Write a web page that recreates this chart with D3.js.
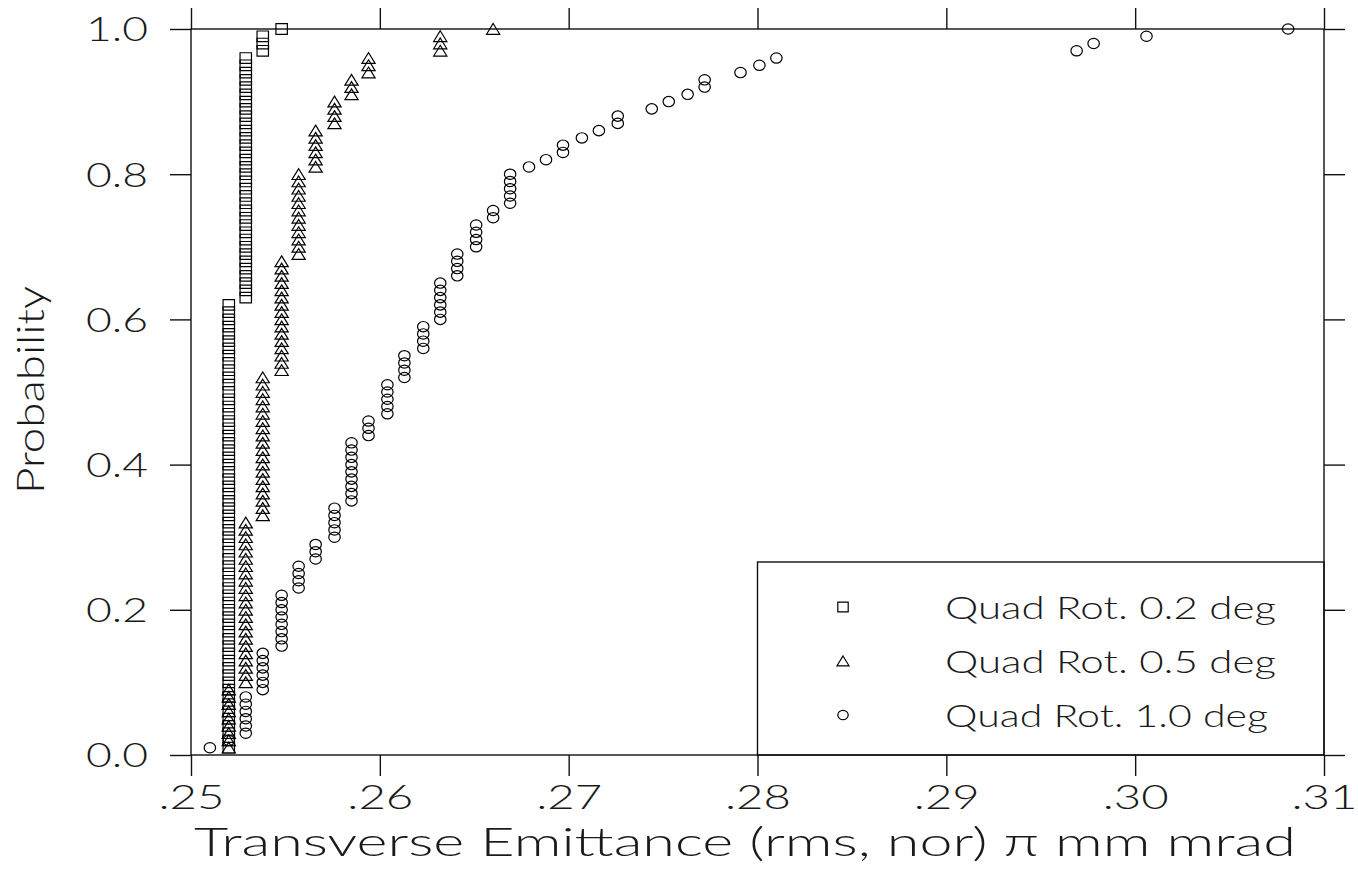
<!DOCTYPE html>
<html>
<head>
<meta charset="utf-8">
<script src="https://cdn.jsdelivr.net/npm/d3@7"></script>
<style>
  html, body { margin: 0; padding: 0; background: #ffffff; }
  svg { display: block; }
  text { font-family: Lato, Inter, Roboto, "DejaVu Sans", sans-serif; font-weight: 300; fill: #1a1a1a; }
</style>
</head>
<body>
<svg id="chart" width="1358" height="871"></svg>
<script>
// Sorted transverse emittance samples (pi mm mrad) for each quadrupole rotation;
// each sample is plotted at its cumulative probability rank / n.
const rot02 = [
  .2520,.2520,.2520,.2520,.2520,.2520,.2520,.2520,.2520,.2520,
  .2520,.2520,.2520,.2520,.2520,.2520,.2520,.2520,.2520,.2520,
  .2520,.2520,.2520,.2520,.2520,.2520,.2520,.2520,.2520,.2520,
  .2520,.2520,.2520,.2520,.2520,.2520,.2520,.2520,.2520,.2520,
  .2520,.2520,.2520,.2520,.2520,.2520,.2520,.2520,.2520,.2520,
  .2520,.2520,.2520,.2520,.2520,.2520,.2520,.2520,.2520,.2520,
  .2520,.2520,.2529,.2529,.2529,.2529,.2529,.2529,.2529,.2529,
  .2529,.2529,.2529,.2529,.2529,.2529,.2529,.2529,.2529,.2529,
  .2529,.2529,.2529,.2529,.2529,.2529,.2529,.2529,.2529,.2529,
  .2529,.2529,.2529,.2529,.2529,.2529,.2538,.2538,.2538,.2548
];
const rot05 = [
  .2520,.2520,.2520,.2520,.2520,.2520,.2520,.2520,.2520,.2529,
  .2529,.2529,.2529,.2529,.2529,.2529,.2529,.2529,.2529,.2529,
  .2529,.2529,.2529,.2529,.2529,.2529,.2529,.2529,.2529,.2529,
  .2529,.2529,.2538,.2538,.2538,.2538,.2538,.2538,.2538,.2538,
  .2538,.2538,.2538,.2538,.2538,.2538,.2538,.2538,.2538,.2538,
  .2538,.2538,.2548,.2548,.2548,.2548,.2548,.2548,.2548,.2548,
  .2548,.2548,.2548,.2548,.2548,.2548,.2548,.2548,.2557,.2557,
  .2557,.2557,.2557,.2557,.2557,.2557,.2557,.2557,.2557,.2557,
  .2566,.2566,.2566,.2566,.2566,.2566,.2576,.2576,.2576,.2576,
  .2585,.2585,.2585,.2594,.2594,.2594,.2632,.2632,.2632,.2660
];
const rot10 = [
  .2510,.2520,.2529,.2529,.2529,.2529,.2529,.2529,.2538,.2538,
  .2538,.2538,.2538,.2538,.2548,.2548,.2548,.2548,.2548,.2548,
  .2548,.2548,.2557,.2557,.2557,.2557,.2566,.2566,.2566,.2576,
  .2576,.2576,.2576,.2576,.2585,.2585,.2585,.2585,.2585,.2585,
  .2585,.2585,.2585,.2594,.2594,.2594,.2604,.2604,.2604,.2604,
  .2604,.2613,.2613,.2613,.2613,.2623,.2623,.2623,.2623,.2632,
  .2632,.2632,.2632,.2632,.2632,.2641,.2641,.2641,.2641,.2651,
  .2651,.2651,.2651,.2660,.2660,.2669,.2669,.2669,.2669,.2669,
  .2679,.2688,.2697,.2697,.2707,.2716,.2726,.2726,.2744,.2753,
  .2763,.2772,.2772,.2791,.2801,.2810,.2969,.2978,.3006,.3081
];

const seriesNames = ["Quad Rot. 0.2 deg", "Quad Rot. 0.5 deg", "Quad Rot. 1.0 deg"];
const seriesShapes = ["square", "triangle", "circle"];
const xTicks = [.25, .26, .27, .28, .29, .30, .31];
const yTicks = [0, 0.2, 0.4, 0.6, 0.8, 1.0];
const xTitle = "Transverse Emittance (rms, nor) \u03C0 mm mrad";
const yTitle = "Probability";

const svg = d3.select("#chart");
const plotL = 191, plotR = 1324, plotT = 29, plotB = 755;
const tickLen = 21;

const x = d3.scaleLinear().domain([0.25, 0.31]).range([plotL, plotR]);
const y = d3.scaleLinear().domain([0, 1]).range([plotB, plotT]);

// Marker outlines (unfilled), centred on the origin
function shapePath(kind, s) {
  if (kind === "square") {
    return `M${-s * 0.52},${-s * 0.48}H${s * 0.52}V${s * 0.48}H${-s * 0.52}Z`;
  }
  return `M0,${-s * 0.5}L${s * 0.6},${s * 0.48}H${-s * 0.6}Z`;
}

function drawMarker(g, kind, cx, cy, s) {
  if (kind === "circle") {
    g.append("ellipse").attr("cx", cx).attr("cy", cy)
      .attr("rx", s * 0.52).attr("ry", s * 0.47)
      .attr("fill", "none").attr("stroke", "#000").attr("stroke-width", 1.2);
  } else {
    g.append("path").attr("d", shapePath(kind, s))
      .attr("transform", `translate(${cx},${cy})`)
      .attr("fill", "none").attr("stroke", "#000").attr("stroke-width", 1.2);
  }
}

// Frame
svg.append("rect")
  .attr("x", plotL).attr("y", plotT)
  .attr("width", plotR - plotL).attr("height", plotB - plotT)
  .attr("fill", "none").attr("stroke", "#111").attr("stroke-width", 1.4);

const fmtX = d => d3.format(".2f")(d).replace(/^0/, "");
const fmtY = d => d3.format(".1f")(d);

// Axes with outward ticks on all four sides
const gB = svg.append("g").attr("transform", `translate(0,${plotB})`)
  .call(d3.axisBottom(x).tickValues(xTicks).tickSize(tickLen).tickSizeOuter(0).tickFormat(fmtX));
const gT = svg.append("g").attr("transform", `translate(0,${plotT})`)
  .call(d3.axisTop(x).tickValues(xTicks).tickSize(tickLen).tickSizeOuter(0).tickFormat(""));
const gL = svg.append("g").attr("transform", `translate(${plotL},0)`)
  .call(d3.axisLeft(y).tickValues(yTicks).tickSize(tickLen).tickSizeOuter(0).tickPadding(22).tickFormat(fmtY));
const gR = svg.append("g").attr("transform", `translate(${plotR},0)`)
  .call(d3.axisRight(y).tickValues(yTicks).tickSize(tickLen).tickSizeOuter(0).tickFormat(""));

[gB, gT, gL, gR].forEach(g => {
  g.attr("font-family", null).attr("font-size", null);
  g.select(".domain").remove();
  g.selectAll(".tick line").attr("stroke", "#111").attr("stroke-width", 1.4);
});

gB.selectAll(".tick text")
  .attr("y", 42).attr("dy", "0.36em")
  .attr("font-size", 33).attr("fill", "#1a1a1a")
  .attr("textLength", 66).attr("lengthAdjust", "spacingAndGlyphs");
gL.selectAll(".tick text")
  .attr("dy", "0.36em")
  .attr("font-size", 33).attr("fill", "#1a1a1a")
  .attr("textLength", 62).attr("lengthAdjust", "spacingAndGlyphs");

// Axis titles
svg.append("text")
  .attr("x", 745).attr("y", 842).attr("dy", "0.36em")
  .attr("text-anchor", "middle").attr("font-size", 40)
  .attr("textLength", 1102).attr("lengthAdjust", "spacingAndGlyphs")
  .text(xTitle);
svg.append("text")
  .attr("transform", "translate(30,390) rotate(-90)")
  .attr("dy", "0.36em")
  .attr("text-anchor", "middle").attr("font-size", 38)
  .attr("textLength", 208).attr("lengthAdjust", "spacingAndGlyphs")
  .text(yTitle);

// Data points: empirical cumulative distribution of each series
const allSeries = [rot02, rot05, rot10];
allSeries.forEach((vals, si) => {
  const g = svg.append("g");
  const n = vals.length;
  vals.forEach((v, i) => {
    drawMarker(g, seriesShapes[si], x(v), y((i + 1) / n), 11);
  });
});

// Legend
const legX = x(0.28);
svg.append("rect")
  .attr("x", legX).attr("y", 562)
  .attr("width", plotR - legX).attr("height", plotB - 562)
  .attr("fill", "none").attr("stroke", "#111").attr("stroke-width", 1.4);
const legRows = [607, 661, 715];
const legLens = [331, 331, 323];
seriesNames.forEach((name, i) => {
  const g = svg.append("g");
  drawMarker(g, seriesShapes[i], 843, legRows[i], 10);
  svg.append("text")
    .attr("x", 945).attr("y", legRows[i]).attr("dy", "0.36em")
    .attr("font-size", 32)
    .attr("textLength", legLens[i]).attr("lengthAdjust", "spacingAndGlyphs")
    .text(name);
});
</script>
</body>
</html>
